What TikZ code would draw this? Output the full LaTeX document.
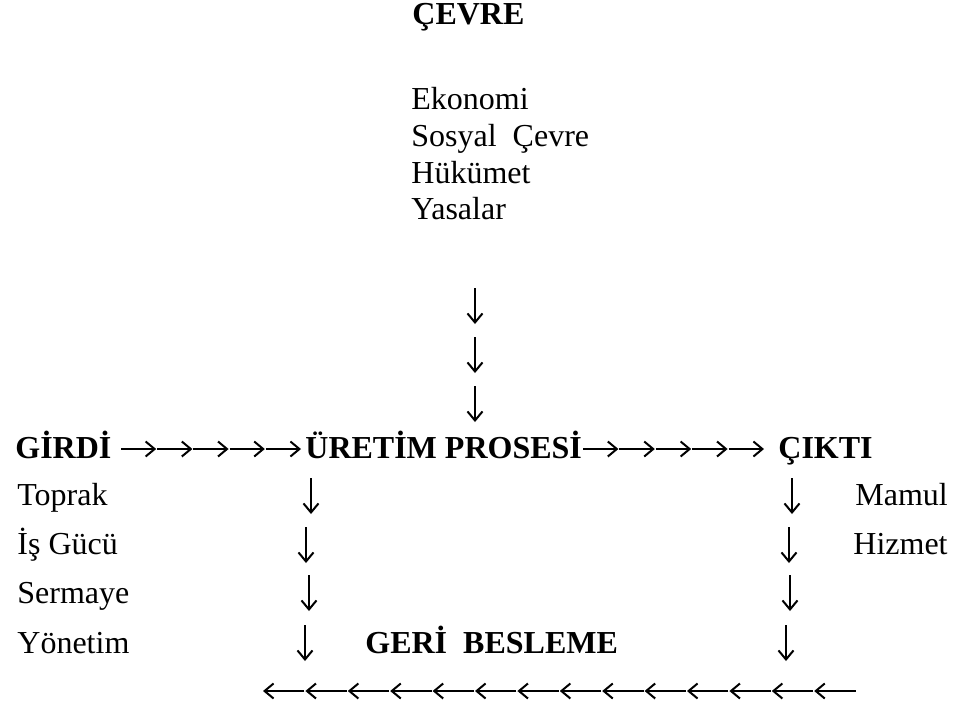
\documentclass[tikz,border=0pt]{standalone}
\usepackage{fontspec}
\setmainfont{Liberation Serif}
\newfontfamily\tnr{Liberation Serif}
\usetikzlibrary{arrows.meta}
\begin{document}
\begin{tikzpicture}[x=0.5pt,y=-0.5pt,
  txt/.style={anchor=base west, inner sep=0pt, font=\tnr\fontsize{16}{19}\selectfont},
  hd/.style={anchor=base west, inner sep=0pt, font=\tnr\fontsize{16}{19}\selectfont\bfseries},
  glyph/.style={line width=1pt, -{Straight Barb[length=4.5pt,width=7.5pt,line width=1pt]}}]
\useasboundingbox (0,0) rectangle (965,709);

% environment block
\node[hd]  (cevre) at (412,24)  {ÇEVRE};
\node[txt] (eko)   at (411,109) {Ekonomi};
\node[txt] (sos)   at (411,146) {Sosyal\ \ Çevre};
\node[txt] (huk)   at (411,183) {Hükümet};
\node[txt] (yas)   at (411,219) {Yasalar};

% environment flows down into the process
\foreach \t in {288,337,386}
  \draw[glyph] (475,\t) -- ++(0,36);

% main row
\node[hd] (girdi)  at (15,458)  {GİRDİ};
\node[hd] (proses) at (305,458) {ÜRETİM PROSESİ};
\node[hd] (cikti)  at (778,458) {ÇIKTI};
\foreach \i in {0,...,4} {
  \draw[glyph] ({121+36.2*\i},449) -- ({121+36.2*(\i+1)-1},449);
  \draw[glyph] ({583+36.4*\i},449) -- ({583+36.4*(\i+1)-1},449);
}

% inputs
\node[txt] (toprak)  at (17,505) {Toprak};
\node[txt] (isgucu)  at (17,554) {İş Gücü};
\node[txt] (sermaye) at (17,603) {Sermaye};
\node[txt] (yonetim) at (17,653) {Yönetim};

% outputs
\node[txt] (mamul)  at (855,505) {Mamul};
\node[txt] (hizmet) at (853,554) {Hizmet};

% feedback columns
\foreach \t/\xl/\xr in {478/311/792, 527/306/789, 575/309/790, 625/305/786} {
  \draw[glyph] (\xl,\t) -- ++(0,36);
  \draw[glyph] (\xr,\t) -- ++(0,36);
}

\node[hd] (geri) at (365,653) {GERİ\ \ BESLEME};

% feedback return line
\foreach \i in {0,...,13}
  \draw[glyph] ({263+42.4*(\i+1)-1},691) -- ({263+42.4*\i},691);
\end{tikzpicture}
\end{document}
